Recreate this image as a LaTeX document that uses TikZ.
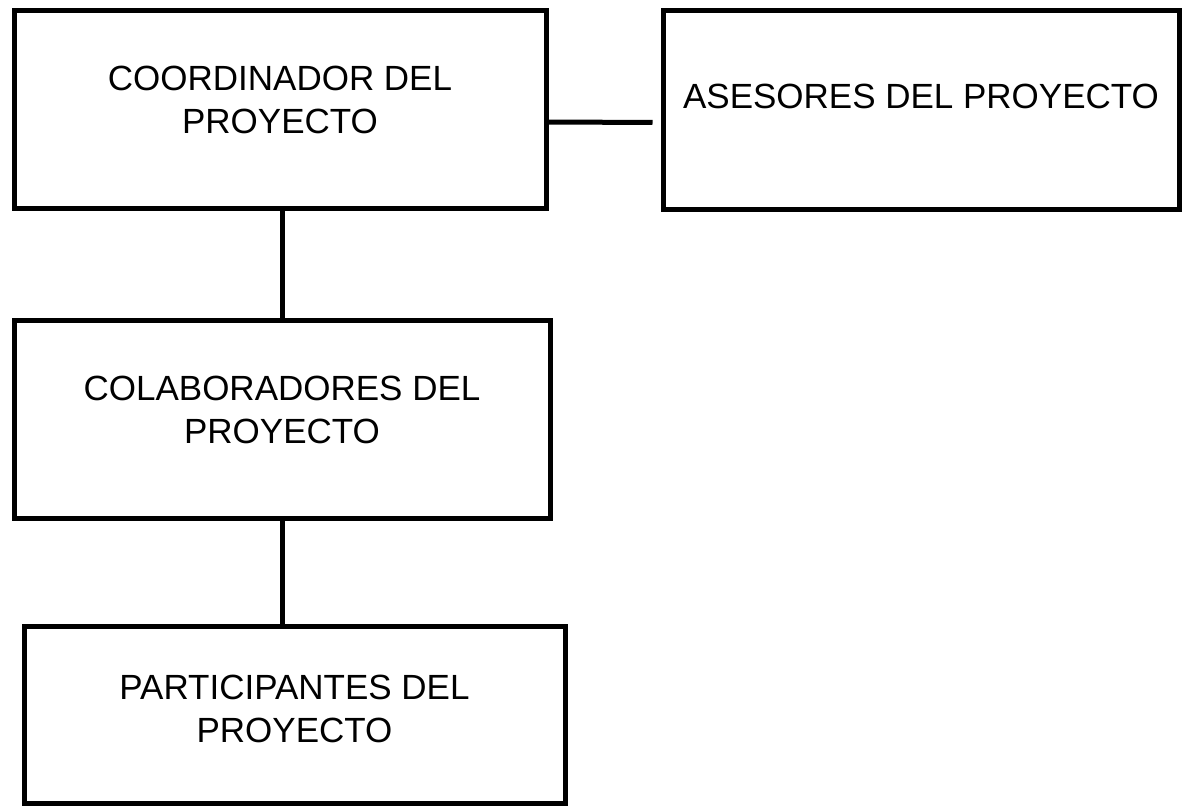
\documentclass[tikz,border=0pt]{standalone}
\usepackage{fontspec}
\setmainfont{Liberation Sans}
\usetikzlibrary{positioning}

\tikzset{
  cajaorg/.style={draw=black, line width=2.5pt, fill=white, align=center,
    inner sep=0pt, font=\fontsize{17.5}{21.5}\selectfont, text depth=9pt},
  enlace/.style={draw=black, line width=2.5pt}
}

\begin{document}
\begin{tikzpicture}[x=0.5pt,y=-0.5pt]
            \useasboundingbox (0,0) rectangle (1190,805);
            % boxes
            \node[cajaorg, minimum width=266pt, minimum height=99pt]
                  (coord) at (280,109) {COORDINADOR DEL\\PROYECTO};
            \node[cajaorg, minimum width=258pt, minimum height=99.5pt, text depth=13pt]
                  (ases) at (921,109.5) {ASESORES DEL PROYECTO};
            \node[cajaorg, minimum width=268pt, minimum height=99pt]
                  (colab) at (282,419) {COLABORADORES DEL\\PROYECTO};
            \node[cajaorg, minimum width=270.5pt, minimum height=88.5pt, text depth=6pt]
                  (part) at (294.5,714.5) {PARTICIPANTES DEL\\PROYECTO};
            % connectors
            \draw[enlace] (coord.south -| colab.north) -- (colab.north);
            \draw[enlace] (colab.south) -- (colab.south |- part.north);
            \draw[enlace, shorten >=4pt] ([yshift=-6.5pt]coord.east)
                  -- ([yshift=-6.5pt]ases.west);
          \end{tikzpicture}
\end{document}
